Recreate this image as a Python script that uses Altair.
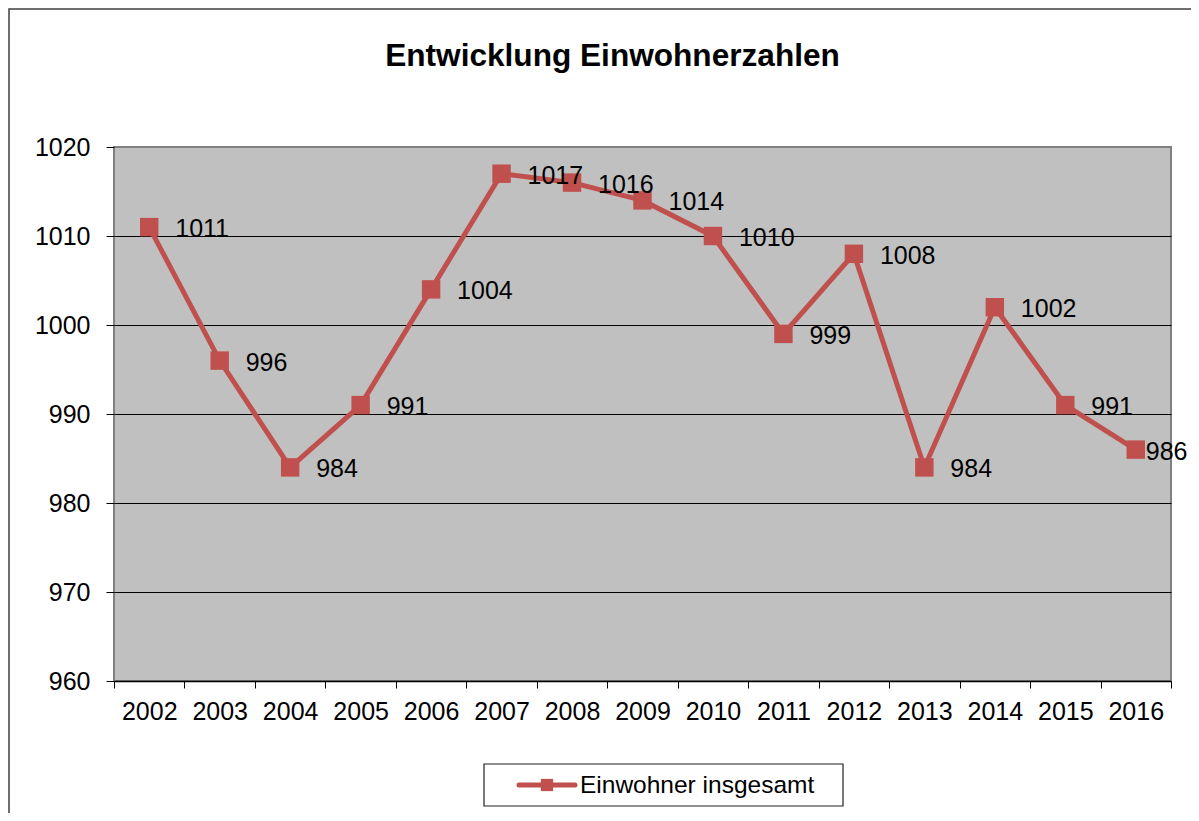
import altair as alt
import pandas as pd

years = ["2002", "2003", "2004", "2005", "2006", "2007", "2008", "2009",
         "2010", "2011", "2012", "2013", "2014", "2015", "2016"]
einwohner = [1011, 996, 984, 991, 1004, 1017, 1016, 1014, 1010, 999, 1008, 984, 1002, 991, 986]
y_ticks = [960, 970, 980, 990, 1000, 1010, 1020]
series_name = "Einwohner insgesamt"
title_text = "Entwicklung Einwohnerzahlen"

RED = "#C0504D"
FONT = "Liberation Sans"

df = pd.DataFrame({"Jahr": years, "Einwohner": einwohner})
one = pd.DataFrame({"k": [0]})

x_enc = alt.X("Jahr:N", sort=years, title=None,
              scale=alt.Scale(paddingInner=0, paddingOuter=0),
              axis=alt.Axis(labelAngle=0, tickBand="extent", tickSize=7, tickColor="black",
                            domainColor="black", domainWidth=1.5, labelFontSize=25,
                            labelFont=FONT, labelColor="black", labelPadding=11, grid=False))
y_enc = alt.Y("Einwohner:Q", title=None,
              scale=alt.Scale(domain=[960, 1020], nice=False, zero=False),
              axis=alt.Axis(values=y_ticks, format="d", tickSize=8, tickColor="black", domain=False,
                            labelFontSize=25, labelFont=FONT, labelColor="black",
                            labelPadding=16, grid=True,
                            gridColor={"expr": "datum.value == 1020 || datum.value == 960 ? 'transparent' : 'black'"},
                            gridWidth=1))

base = alt.Chart(df)

border = alt.Chart(one).mark_rect(fill=None, stroke="#404040", strokeWidth=1.5).encode(
    x=alt.value(-105), x2=alt.value(1082), y=alt.value(-138), y2=alt.value(700))

line = base.mark_line(color=RED, strokeWidth=5).encode(x=x_enc, y=y_enc)
points = base.mark_point(shape="square", filled=True, color=RED, size=340, opacity=1).encode(
    x=alt.X("Jahr:N", sort=years), y="Einwohner:Q")
labels = base.transform_filter(alt.datum.Jahr != "2016").mark_text(
    align="left", baseline="middle", dx=26, dy=2, fontSize=25, font=FONT, color="black").encode(
    x=alt.X("Jahr:N", sort=years), y="Einwohner:Q", text="Einwohner:Q")
label_last = base.transform_filter(alt.datum.Jahr == "2016").mark_text(
    align="left", baseline="middle", dx=10, dy=2, fontSize=25, font=FONT, color="black").encode(
    x=alt.X("Jahr:N", sort=years), y="Einwohner:Q", text="Einwohner:Q")

leg_box = alt.Chart(one).mark_rect(fill="white", stroke="#202020", strokeWidth=1.2).encode(
    x=alt.value(370), x2=alt.value(729), y=alt.value(617), y2=alt.value(659))
leg_line = alt.Chart(one).mark_rule(color=RED, strokeWidth=5, strokeCap="round").encode(
    x=alt.value(405), x2=alt.value(461), y=alt.value(638))
leg_pt = alt.Chart(one).mark_point(shape="square", filled=True, color=RED, size=150, opacity=1).encode(
    x=alt.value(433), y=alt.value(638))
leg_txt = alt.Chart(one).mark_text(align="left", baseline="middle", fontSize=24.5, font=FONT,
                                   color="black", text=series_name).encode(
    x=alt.value(466), y=alt.value(639))

chart = alt.layer(border, line, points, labels, label_last, leg_box, leg_line, leg_pt, leg_txt).properties(
    width=1057, height=534,
    title=alt.TitleParams(title_text, fontSize=31.6, font=FONT, fontWeight="bold", color="black",
                          anchor="middle", dx=-30, offset=-64),
    padding={"left": 106, "top": 139, "right": 20, "bottom": 132},
    autosize=alt.AutoSizeParams(type="none"),
    background="white",
).configure_view(fill="#C0C0C0", stroke="#808080", strokeWidth=2)

chart.save("out.html", embed_options={"renderer": "svg", "actions": False})
